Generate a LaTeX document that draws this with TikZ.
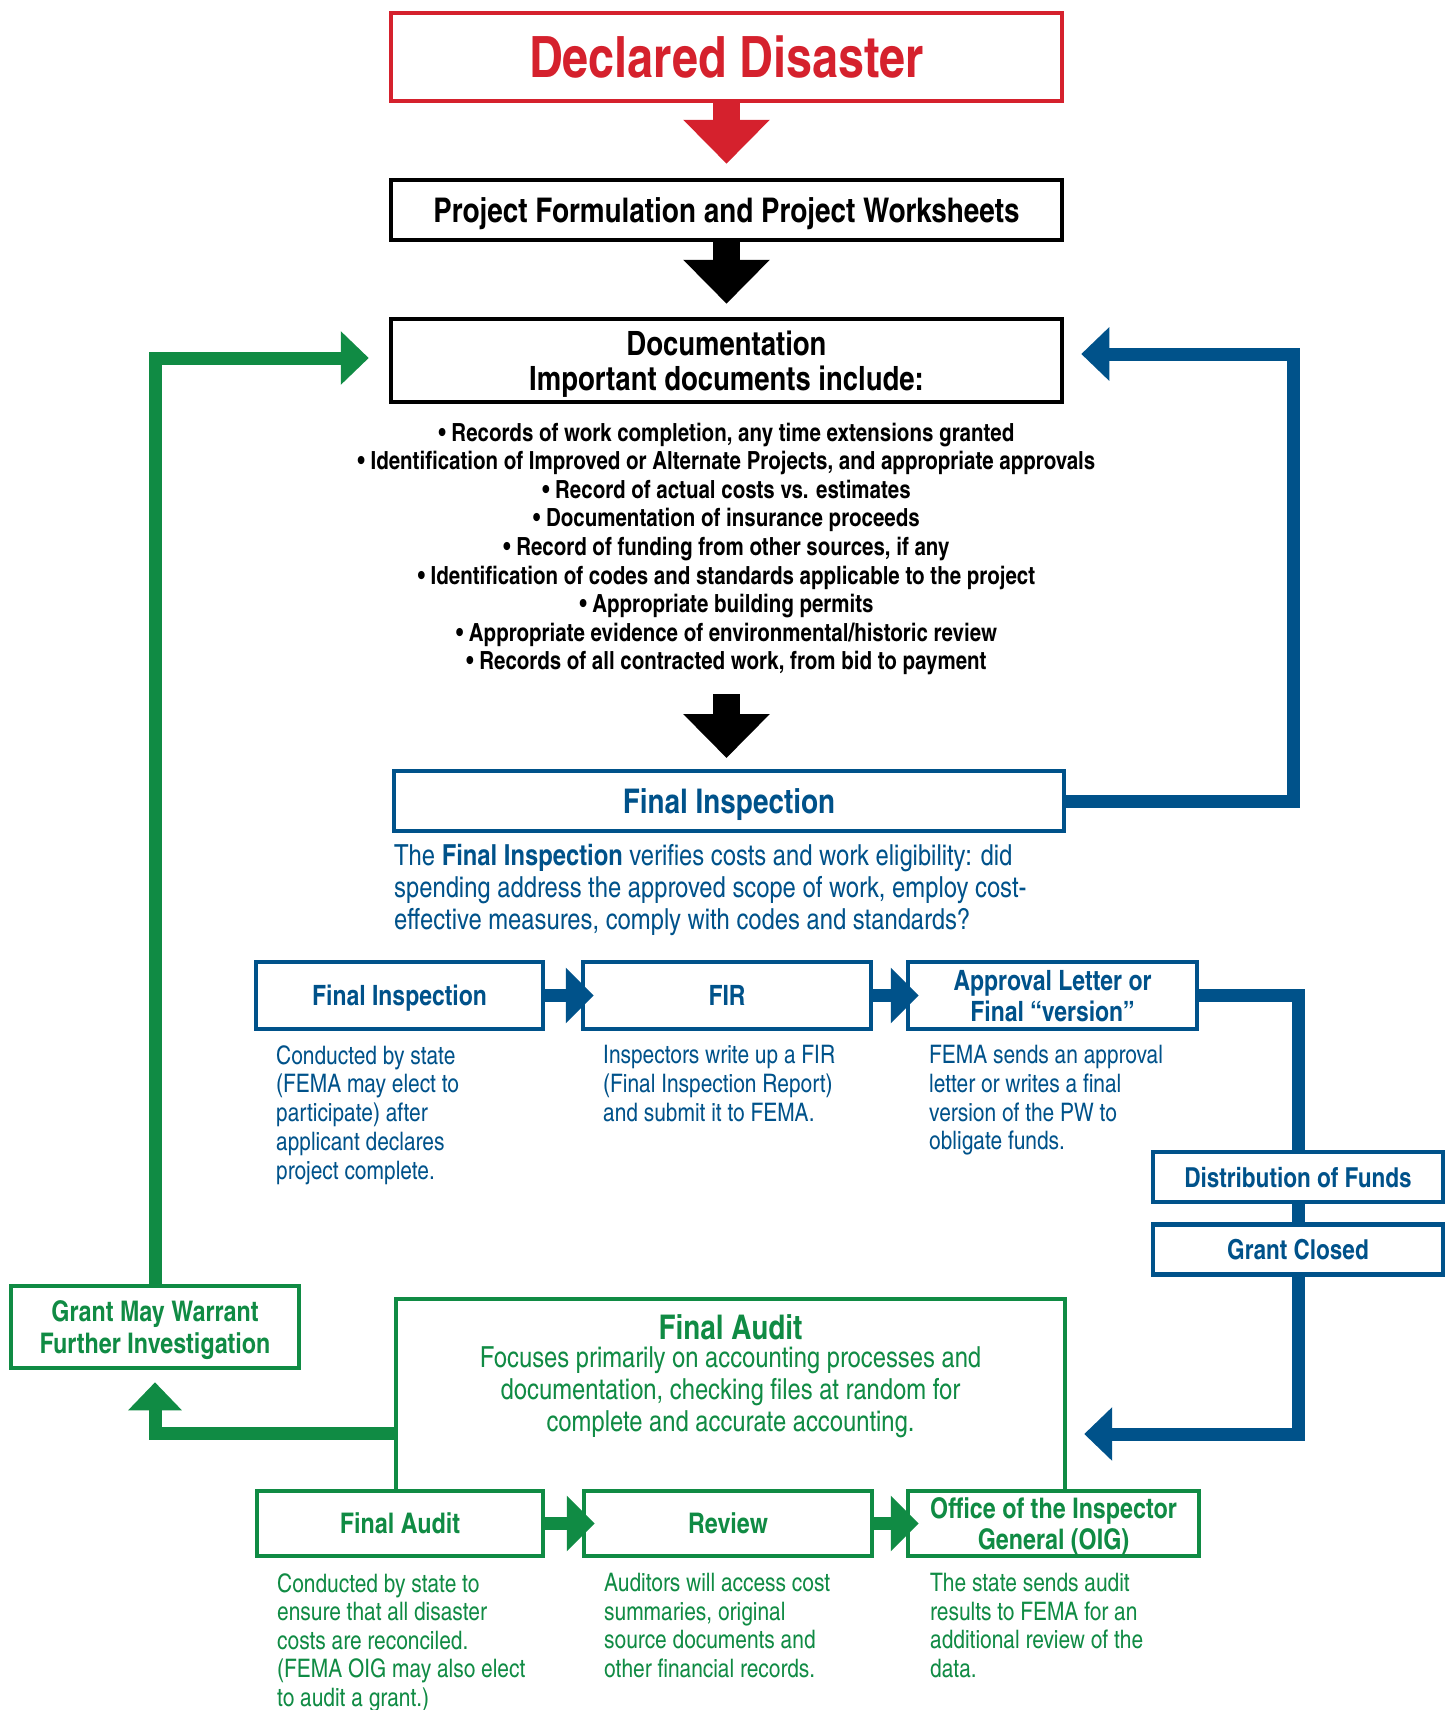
\documentclass[tikz,border=0pt]{standalone}
\usepackage{fontspec}
\setmainfont{texgyreheroscn}[Extension=.otf, UprightFont=*-regular, BoldFont=*-bold, ItalicFont=*-italic, BoldItalicFont=*-bolditalic]
\usetikzlibrary{arrows.meta}

\definecolor{fred}{RGB}{213,33,45}
\definecolor{fblue}{RGB}{0,82,138}
\definecolor{fgreen}{RGB}{16,139,68}

\newcommand{\setfs}[2]{\fontsize{#1}{#2}\selectfont}

\tikzset{
    box/.style={draw, inner sep=0pt, align=center, text depth=0pt},
    bigarrow/.style={line width=27pt, -{Triangle[length=44pt, width=84pt]}},
    backarrow/.style={line width=13pt, -{Triangle[length=28pt, width=52pt]}},
    smallarrow/.style={line width=13pt, -{Triangle[length=28pt, width=54pt]}, shorten >=-13pt},
    desc/.style={align=left, anchor=north west, inner sep=0pt},
}

\begin{document}
\begin{tikzpicture}[x=1pt, y=-1pt]
    \useasboundingbox (0,0) rectangle (1453,1710);

    % top
    \node[box, draw=fred, text=fred, line width=3.5pt, minimum width=671pt, minimum height=88pt, font=\bfseries\setfs{57}{60}] (disaster) at (726.5,57) {Declared Disaster};
    \node[box, line width=4.5pt, minimum width=671pt, minimum height=60pt, font=\bfseries\setfs{34}{36}] (formulation) at (726.5,210) {Project Formulation and Project Worksheets};
    \node[box, line width=4.5pt, minimum width=671pt, minimum height=83pt, font=\bfseries\setfs{33.5}{35}] (documentation) at (726.5,360.5) {Documentation\\Important documents include:};
    \node[align=center, inner sep=0pt, font=\bfseries\setfs{25}{28.6}] (list) at (726.5,549) {%
        • Records of work completion, any time extensions granted\\
        • Identification of Improved or Alternate Projects, and appropriate approvals\\
        • Record of actual costs vs. estimates\\
        • Documentation of insurance proceeds\\
        • Record of funding from other sources, if any\\
        • Identification of codes and standards applicable to the project\\
        • Appropriate building permits\\
        • Appropriate evidence of environmental/historic review\\
        • Records of all contracted work, from bid to payment};

    \draw[fred, bigarrow, shorten >=14pt] (disaster) -- (formulation);
    \draw[bigarrow, shorten >=13pt] (formulation) -- (documentation);

    % inspection
    \node[box, draw=fblue, text=fblue, line width=4pt, minimum width=670pt, minimum height=60pt, font=\bfseries\setfs{34}{36}] (inspection) at (729,801) {Final Inspection};
    \node[desc, text=fblue, font=\setfs{29}{32}] (inspectiontext) at (394,844) {%
        The \textbf{Final Inspection} verifies costs and work eligibility: did\\
        spending address the approved scope of work, employ cost-\\
        effective measures, comply with codes and standards?};

    \coordinate (listend) at (726.5,694);
    \draw[bigarrow, shorten >=11pt] (listend) -- (inspection.north -| listend);

    \node[box, draw=fblue, text=fblue, line width=4.5pt, minimum width=287pt, minimum height=67pt, font=\bfseries\setfs{28}{31}] (finalinsp) at (399.5,995.5) {Final Inspection};
    \node[box, draw=fblue, text=fblue, line width=4.5pt, minimum width=288pt, minimum height=67pt, font=\bfseries\setfs{28}{31}] (fir) at (727,995.5) {FIR};
    \node[box, draw=fblue, text=fblue, line width=4.5pt, minimum width=289pt, minimum height=67pt, font=\bfseries\setfs{28}{31}] (approval) at (1052.5,995.5) {Approval Letter or\\Final “version”};

    \node[desc, text=fblue, font=\setfs{25.5}{28.8}] (finalinsptext) at (276,1045) {Conducted by state\\(FEMA may elect to\\participate) after\\applicant declares\\project complete.};
    \node[desc, text=fblue, font=\setfs{25.5}{28.8}] (firtext) at (603,1045) {Inspectors write up a FIR\\(Final Inspection Report)\\and submit it to FEMA.};
    \node[desc, text=fblue, font=\setfs{25.5}{28.8}] (approvaltext) at (929,1045) {FEMA sends an approval\\letter or writes a final\\version of the PW to\\obligate funds.};

    \draw[fblue, smallarrow] (finalinsp) -- (fir);
    \draw[fblue, smallarrow] (fir) -- (approval);

    % funds
    \node[box, draw=fblue, text=fblue, line width=4.5pt, minimum width=290pt, minimum height=50pt, font=\bfseries\setfs{27.5}{31}] (funds) at (1298,1177) {Distribution of Funds};
    \node[box, draw=fblue, text=fblue, line width=4.5pt, minimum width=290pt, minimum height=50pt, font=\bfseries\setfs{27.5}{31}] (closed) at (1298,1249.5) {Grant Closed};

    \draw[fblue, line width=13pt] (approval.east) -| (funds.north);
    \draw[fblue, line width=13pt] (funds) -- (closed);

    % audit
    \node[minimum width=669pt, minimum height=192pt, inner sep=0pt] (audit) at (730.5,1395) {};
    \draw[fgreen, line width=4pt] (audit.south west) -- (audit.north west) -- (audit.north east) -- (audit.south east);
    \node[text=fgreen, font=\bfseries\setfs{34}{36}] (audittitle) at (730.5,1327) {Final Audit};
    \node[align=center, anchor=north, inner sep=0pt, text=fgreen, font=\setfs{29}{32}] (audittext) at (730.5,1346) {Focuses primarily on accounting processes and\\documentation, checking files at random for\\complete and accurate accounting.};

    \node[box, draw=fgreen, text=fgreen, line width=4.5pt, minimum width=288pt, minimum height=82pt, font=\bfseries\setfs{28.4}{32}] (warrant) at (155,1327) {Grant May Warrant\\Further Investigation};

    \node[box, draw=fgreen, text=fgreen, line width=4.5pt, minimum width=286pt, minimum height=65pt, font=\bfseries\setfs{28.4}{31}] (finalaudit) at (400,1523.5) {Final Audit};
    \node[box, draw=fgreen, text=fgreen, line width=4.5pt, minimum width=288pt, minimum height=65pt, font=\bfseries\setfs{28.4}{31}] (review) at (728,1523.5) {Review};
    \node[box, draw=fgreen, text=fgreen, line width=4.5pt, minimum width=291pt, minimum height=65pt, font=\bfseries\setfs{28.4}{31}] (oig) at (1053.5,1523.5) {Office of the Inspector\\General (OIG)};

    \node[desc, text=fgreen, font=\setfs{25.5}{28.6}] (finalaudittext) at (277,1573) {Conducted by state to\\ensure that all disaster\\costs are reconciled.\\(FEMA OIG may also elect\\to audit a grant.)};
    \node[desc, text=fgreen, font=\setfs{25.5}{28.6}] (reviewtext) at (604,1573) {Auditors will access cost\\summaries, original\\source documents and\\other financial records.};
    \node[desc, text=fgreen, font=\setfs{25.5}{28.6}] (oigtext) at (930,1573) {The state sends audit\\results to FEMA for an\\additional review of the\\data.};

    \draw[fgreen, smallarrow] (finalaudit) -- (review);
    \draw[fgreen, smallarrow] (review) -- (oig);

    % return
    \coordinate (bluetop) at (1293,354);
    \draw[fblue, backarrow, shorten >=17pt] (inspection.east) -| (bluetop) -- (bluetop -| documentation.east);
    \coordinate (bluebot) at (1298,1434);
    \draw[fblue, backarrow, shorten >=19pt] (closed.south) -- (bluebot) -- (bluebot -| audit.east);

    \coordinate (greenbot) at (155,1433);
    \draw[fgreen, backarrow, shorten >=12pt] (greenbot -| audit.west) -- (greenbot) -- (warrant.south);
    \coordinate (greentop) at (155,358);
    \draw[fgreen, backarrow, shorten >=20pt] (warrant.north) -- (greentop) -- (greentop -| documentation.west);

\end{tikzpicture}
\end{document}
